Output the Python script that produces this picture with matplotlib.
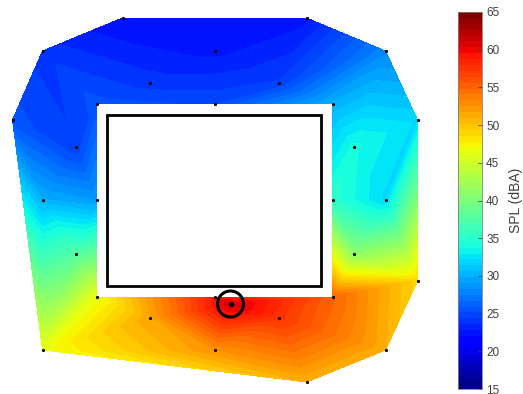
import numpy as np
import matplotlib
matplotlib.use("Agg")
import matplotlib.pyplot as plt
import matplotlib.tri as mtri
from matplotlib.patches import Rectangle, Circle
from matplotlib.colors import Normalize
from matplotlib.colorbar import ColorbarBase

plt.rcParams['font.family'] = ['Liberation Sans', 'DejaVu Sans']

# Measurement positions (m) around the building, origin at building centre
x_pos = [-9.2, 9.2, 17.1, 20.3, 20.3, 17.1, 9.2, -17.2, -20.2, -17.2,
         0.0, -6.5, 6.4, 0.0, -11.8, 11.8, -13.9, 13.9,
         -17.2, -11.8, 11.8, 17.1, -13.9, 13.9, -11.8, 11.8,
         0.0, -6.5, 6.4, 0.0]
y_pos = [18.2, 18.2, 14.9, 8.0, -8.1, -15.0, -18.2, -15.0, 8.0, 14.9,
         14.9, 11.7, 11.7, 9.6, 9.6, 9.6, 5.3, 5.3,
         0.0, 0.0, 0.0, 0.0, -5.4, -5.4, -9.7, -9.7,
         -9.7, -11.8, -11.8, -15.0]
# A-weighted sound pressure level at each position (dBA)
spl = [22.0, 22.5, 28.0, 32.0, 49.0, 51.0, 51.0, 46.5, 25.5, 24.0,
       22.5, 24.0, 24.5, 25.0, 25.5, 30.0, 24.5, 34.0,
       30.0, 29.0, 35.0, 32.0, 37.5, 41.0, 46.5, 55.0,
       59.0, 51.5, 57.5, 52.5]

# Noise source position and level (index 30 in the mesh)
src_x, src_y, src_spl = 1.6, -10.4, 61.0

# Mesh connectivity of the ring of positions around the building
triangles = [
    # north side
    (9, 0, 11), (0, 10, 11), (0, 1, 10), (1, 12, 10), (1, 2, 12),
    (9, 11, 14), (11, 13, 14), (11, 10, 13), (10, 12, 13), (12, 15, 13),
    (12, 2, 15),
    # north-west / north-east corners
    (9, 8, 16), (9, 16, 14), (2, 3, 17), (2, 17, 15),
    # west side
    (8, 18, 16), (16, 18, 19), (16, 19, 14), (8, 7, 18), (18, 22, 19),
    (18, 7, 22), (22, 7, 24), (19, 22, 24),
    # east side
    (3, 4, 21), (3, 21, 17), (17, 21, 20), (17, 20, 15), (21, 23, 20),
    (21, 4, 23), (23, 4, 25), (20, 23, 25),
    # south side
    (7, 27, 24), (7, 29, 27), (7, 6, 29), (24, 27, 26), (26, 27, 30),
    (27, 29, 30), (29, 28, 30), (30, 28, 25), (30, 25, 26),
    (6, 28, 29), (6, 5, 28), (5, 25, 28), (5, 4, 25),
]

# Building outline
bld_x0, bld_x1, bld_y0, bld_y1 = -10.75, 10.65, -8.6, 8.5

cb_ticks = [15, 20, 25, 30, 35, 40, 45, 50, 55, 60, 65]
vmin, vmax = 15, 65

W, H = 523, 394
fig = plt.figure(figsize=(W / 100, H / 100), dpi=100)
ax = fig.add_axes([0, 0, 440 / W, 1])

px = np.array(x_pos + [src_x])
py = np.array(y_pos + [src_y])
pz = np.array(spl + [src_spl])

tri = mtri.Triangulation(px, py, triangles=np.array(triangles))

cmap = plt.get_cmap('jet', 64)
norm = Normalize(vmin, vmax)
levels = np.linspace(vmin, vmax, 65)
ax.tricontourf(tri, pz, levels=levels, cmap=cmap, norm=norm)

ax.plot(x_pos, y_pos, 'o', color='black', ms=2.3, mew=0)
ax.plot([src_x], [src_y], 'o', color='black', ms=3.8, mew=0)
ax.add_patch(Circle((src_x, src_y), 1.3, fill=False, ec='black', lw=2.2))
ax.add_patch(Rectangle((bld_x0, bld_y0), bld_x1 - bld_x0, bld_y1 - bld_y0,
                       fill=False, ec='black', lw=2.0))

ax.set_xlim(-21.45, 22.55)
ax.set_ylim(-19.4, 20.0)
ax.axis('off')

cax = fig.add_axes([458 / W, 1 - 389 / H, 24 / W, 377 / H])
cb = ColorbarBase(cax, cmap=cmap, norm=norm, ticks=cb_ticks)
cb.outline.set_edgecolor('#808080')
cb.outline.set_linewidth(0.6)
cax.tick_params(direction='in', length=3, width=0.6, colors='#404040',
                labelsize=8.5, pad=3)
cb.set_label('SPL (dBA)', color='#404040', fontsize=10, labelpad=7)

fig.savefig('out.png', dpi=100)
